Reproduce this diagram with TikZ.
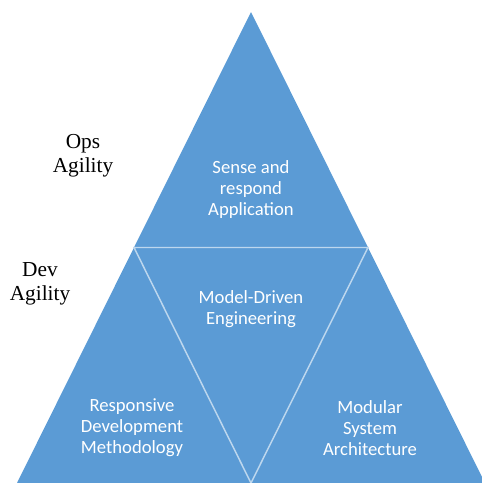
\documentclass[tikz,border=0pt]{standalone}
\usepackage{fontspec}
\setmainfont{Liberation Serif}
\newfontfamily\calib{Carlito}
\definecolor{tri}{HTML}{5B9BD5}
\definecolor{divl}{HTML}{BDD7EE}
\begin{document}
\begin{tikzpicture}[x=0.75pt,y=-0.75pt,
  lbl/.style={text=white,align=center,font=\calib\fontsize{14}{15.75}\selectfont,inner sep=0pt},
  side/.style={text=black,align=center,font=\fontsize{16}{18}\selectfont,inner sep=0pt},
  divider/.style={draw=divl,line width=1.1pt}]
\useasboundingbox (0,0) rectangle (482,483);
\clip (0,0) rectangle (482,483);
\coordinate (A) at (251,12);
\coordinate (BL) at (17,483);
\coordinate (BR) at (485,483);
\coordinate (ML) at (134,247.5);
\coordinate (MR) at (368,247.5);
\coordinate (MB) at (251,483);
\fill[tri] (A) -- (BR) -- (BL) -- cycle;
\draw[divider] (ML) -- (MR) -- (MB) -- cycle;
\node[lbl] (sense) at (251,190) {Sense and\\respond\\Application};
\node[lbl] (mde) at (251,309.5) {Model-Driven\\Engineering};
\node[lbl] (rdm) at (132,428) {Responsive\\Development\\Methodology};
\node[lbl] (msa) at (370,428) {Modular\\System\\Architecture};
\node[side] (ops) at (83,156) {Ops\\Agility};
\node[side] (dev) at (40,284) {Dev\\Agility};
\end{tikzpicture}
\end{document}
